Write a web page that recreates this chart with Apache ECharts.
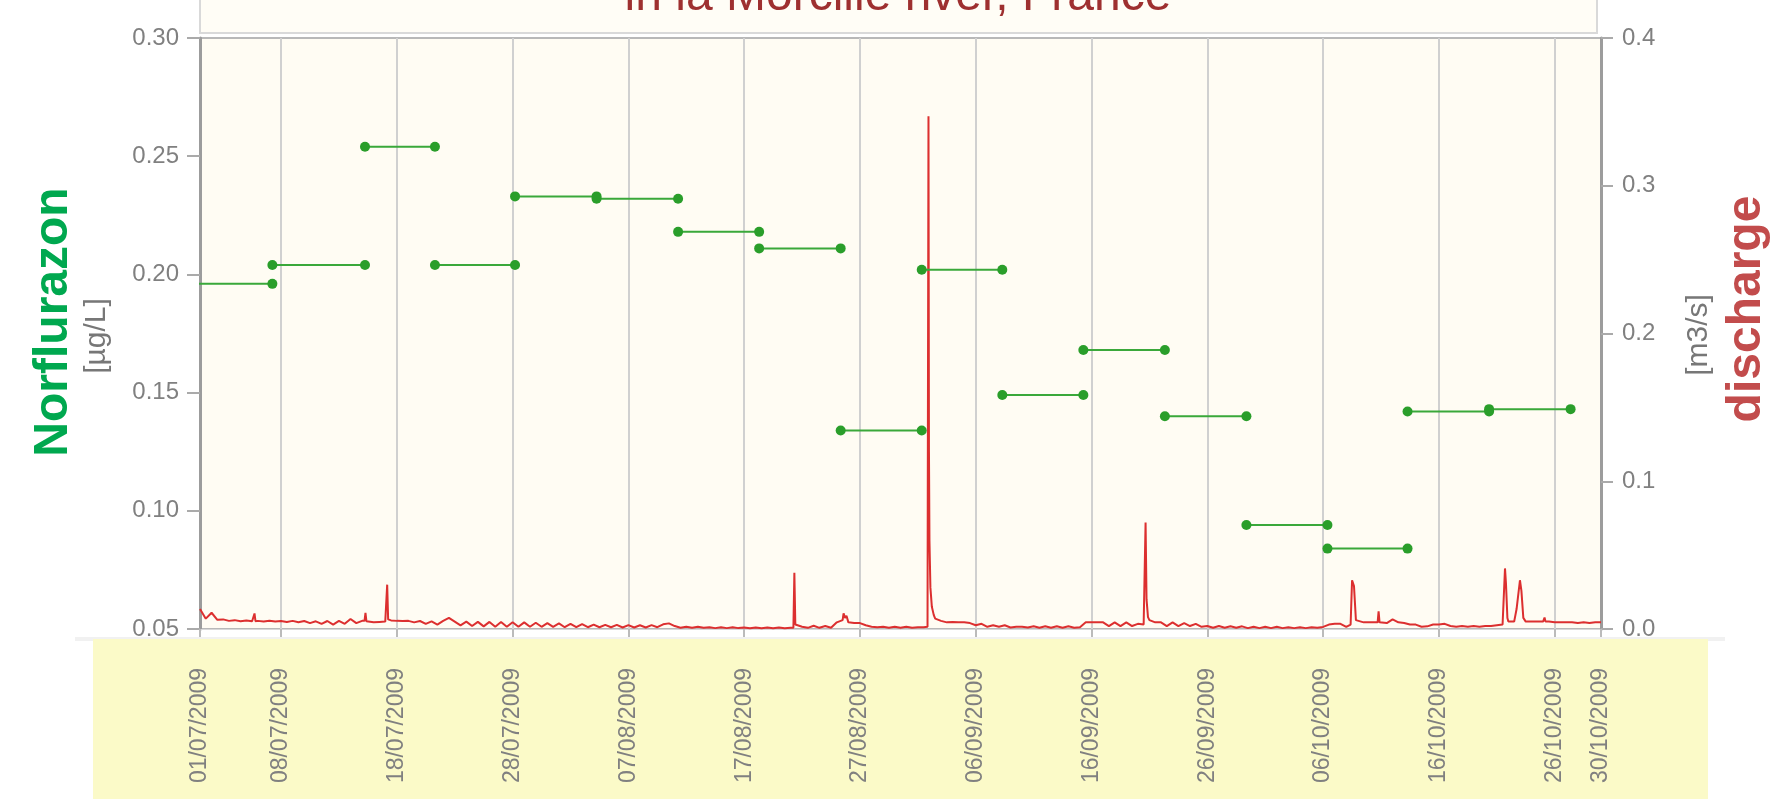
<!DOCTYPE html>
<html>
<head>
<meta charset="utf-8">
<title>Norflurazon and discharge in la Morcille river</title>
<script src="https://cdn.jsdelivr.net/npm/echarts@6.0.0/dist/echarts.min.js"></script>
<style>
  html, body { margin: 0; padding: 0; background: #fff; }
  #chart { width: 1770px; height: 803px; }
</style>
</head>
<body>
<div id="chart"></div>
<script>
// dates shown on the x axis
const tickDates = ['2009-07-01', '2009-07-08', '2009-07-18', '2009-07-28', '2009-08-07', '2009-08-17', '2009-08-27',
  '2009-09-06', '2009-09-16', '2009-09-26', '2009-10-06', '2009-10-16', '2009-10-26', '2009-10-30']

// norflurazon composite samples: period limits and concentration [µg/L]
const sampleDates = ['2009-06-30 06:00', '2009-07-07 06:00', '2009-07-15 06:00', '2009-07-21 07:00', '2009-07-28 05:00',
  '2009-08-04 06:00', '2009-08-11 07:00', '2009-08-18 07:00', '2009-08-25 08:00', '2009-09-01 08:00', '2009-09-08 07:00',
  '2009-09-15 07:00', '2009-09-22 08:00', '2009-09-29 09:00', '2009-10-06 09:00', '2009-10-13 07:00', '2009-10-20 08:00',
  '2009-10-27 09:00']
const norflurazon = [0.196, 0.204, 0.254, 0.204, 0.233, 0.232, 0.218, 0.211, 0.134, 0.202, 0.149, 0.168, 0.140,
  0.094, 0.084, 0.142, 0.143]

// discharge [m3/s], one value every 12 h from 01/07/2009 00:00
const dischargeStart = '2009-07-01 00:00'
const dischargeHalfDay = [
  0.0135, 0.007, 0.011, 0.0062, 0.0065, 0.0055, 0.006, 0.0052, 0.0058, 0.0052, // 01/07
  0.0055, 0.005, 0.0056, 0.005, 0.0054, 0.0048, 0.0055, 0.0046, 0.0054, 0.004,
  0.0052, 0.0035, 0.0054, 0.003, 0.0055, 0.0035, 0.0068, 0.004, 0.0055, 0.005,
  0.0045, 0.0048, 0.005, 0.0058, 0.0055, 0.0054, 0.0055, 0.0045, 0.0054, 0.0035,
  0.0052, 0.003, 0.0055, 0.0075, 0.005, 0.0025, 0.005, 0.002, 0.0048, 0.0018,
  0.0048, 0.0015, 0.0047, 0.0015, 0.0046, 0.0015, 0.0045, 0.0015, 0.0042, 0.0015, // 26/07
  0.004, 0.0015, 0.0038, 0.0012, 0.0035, 0.0012, 0.0033, 0.0012, 0.003, 0.0012,
  0.0028, 0.0012, 0.0028, 0.001, 0.0026, 0.001, 0.0025, 0.001, 0.0026, 0.0012,
  0.0032, 0.0038, 0.002, 0.0008, 0.0015, 0.0008, 0.0015, 0.0008, 0.0012, 0.0006,
  0.0012, 0.0006, 0.0012, 0.0006, 0.001, 0.0005, 0.001, 0.0005, 0.001, 0.0005,
  0.001, 0.0005, 0.0008, 0.0025, 0.0015, 0.0008, 0.0022, 0.0008, 0.002, 0.0008, // 20/08
  0.0045, 0.006, 0.0045, 0.004, 0.004, 0.0025, 0.0015, 0.0012, 0.0015, 0.0008,
  0.0015, 0.0008, 0.0015, 0.0008, 0.0012, 0.0012, 0.06, 0.007, 0.0055, 0.0045,
  0.0047, 0.0045, 0.0045, 0.004, 0.0025, 0.0035, 0.0015, 0.0025, 0.0015, 0.0025,
  0.001, 0.0015, 0.0015, 0.001, 0.0018, 0.0008, 0.0018, 0.0008, 0.0018, 0.0008,
  0.0018, 0.0008, 0.0012, 0.0045, 0.0045, 0.0045, 0.0045, 0.002, 0.0045, 0.002, // 14/09
  0.0045, 0.002, 0.0035, 0.003, 0.006, 0.0045, 0.0045, 0.002, 0.0045, 0.002,
  0.004, 0.002, 0.0035, 0.0015, 0.002, 0.0008, 0.002, 0.0008, 0.0018, 0.0008,
  0.0018, 0.0006, 0.0015, 0.0006, 0.0015, 0.0006, 0.0015, 0.0006, 0.0012, 0.0006,
  0.0012, 0.0006, 0.0012, 0.0008, 0.0014, 0.003, 0.0035, 0.0035, 0.0015, 0.033,
  0.005, 0.0045, 0.0045, 0.0045, 0.0045, 0.004, 0.0065, 0.0045, 0.004, 0.003, // 09/10
  0.003, 0.0015, 0.0018, 0.003, 0.003, 0.0035, 0.002, 0.0015, 0.002, 0.0015,
  0.002, 0.0015, 0.002, 0.002, 0.0025, 0.003, 0.005, 0.005, 0.033, 0.005,
  0.005, 0.005, 0.005, 0.005, 0.0045, 0.0045, 0.0045, 0.0045, 0.004, 0.0045,
  0.004, 0.0045, 0.0045
]
// short flood peaks between the 12 h values
const dischargePeaks = [
  ['2009-07-05 15:00', 0.0052], ['2009-07-05 17:00', 0.0105], ['2009-07-05 19:00', 0.0053],
  ['2009-07-15 05:00', 0.0055], ['2009-07-15 07:00', 0.011], ['2009-07-15 09:00', 0.0052],
  ['2009-07-17 02:00', 0.005], ['2009-07-17 04:00', 0.030], ['2009-07-17 06:00', 0.0065],
  ['2009-08-21 06:00', 0.0008], ['2009-08-21 08:00', 0.038], ['2009-08-21 10:00', 0.003],
  ['2009-08-25 14:00', 0.0106], ['2009-08-25 17:00', 0.0075], ['2009-08-25 20:00', 0.009],
  ['2009-09-01 20:00', 0.0015], ['2009-09-01 22:00', 0.347], ['2009-09-01 23:00', 0.12],
  ['2009-09-02 02:00', 0.028], ['2009-09-02 05:00', 0.015], ['2009-09-02 09:00', 0.0094],
  ['2009-09-20 14:00', 0.0035], ['2009-09-20 16:00', 0.072], ['2009-09-20 18:00', 0.02], ['2009-09-20 21:00', 0.008],
  ['2009-10-08 09:00', 0.003], ['2009-10-08 16:00', 0.029], ['2009-10-08 20:00', 0.006],
  ['2009-10-10 17:00', 0.0045], ['2009-10-10 19:00', 0.012], ['2009-10-10 21:00', 0.0045],
  ['2009-10-21 15:00', 0.003], ['2009-10-21 17:00', 0.041], ['2009-10-21 19:00', 0.031], ['2009-10-21 22:00', 0.0075],
  ['2009-10-22 17:00', 0.0135], ['2009-10-23 03:00', 0.026], ['2009-10-23 07:00', 0.0075],
  ['2009-10-25 03:00', 0.0078], ['2009-10-25 05:00', 0.005]
]

function toTime (s) {
  return new Date(s.length > 10 ? s.replace(' ', 'T') : s + 'T00:00').getTime()
}
function pad (n) {
  return n < 10 ? '0' + n : '' + n
}

const HALF_DAY = 12 * 3600 * 1000
const t0 = toTime(dischargeStart)
const dischargeData = dischargeHalfDay.map((v, i) => [t0 + i * HALF_DAY, v])
dischargePeaks.forEach(p => dischargeData.push([toTime(p[0]), p[1]]))
dischargeData.sort((a, b) => a[0] - b[0])

// one flat segment per sampling period, broken between periods
const sampleData = []
norflurazon.forEach((v, i) => {
  sampleData.push([toTime(sampleDates[i]), v], [toTime(sampleDates[i + 1]), v], [toTime(sampleDates[i + 1]), null])
})

const ticks = tickDates.map(toTime)
const FONT = 'Liberation Sans'

const chart = echarts.init(document.getElementById('chart'))
chart.setOption({
  animation: false,
  textStyle: { fontFamily: FONT },
  grid: {
    left: 200,
    right: 169,
    top: 38,
    bottom: 174,
    show: true,
    backgroundColor: '#fffcf3',
    borderColor: '#b8b8b8',
    borderWidth: 2
  },
  // timestamps on a plain value axis, ticks only at the listed dates
  xAxis: {
    type: 'value',
    min: ticks[0],
    max: ticks[ticks.length - 1],
    offset: 10,
    axisLine: { lineStyle: { color: '#d8d8d8', width: 1 } },
    axisTick: { customValues: ticks, length: 8, lineStyle: { color: '#bbb', width: 2 } },
    axisLabel: {
      customValues: ticks,
      rotate: 90,
      margin: 29,
      fontSize: 23,
      color: '#808080',
      formatter: function (v) {
        const d = new Date(v)
        return pad(d.getDate()) + '/' + pad(d.getMonth() + 1) + '/' + d.getFullYear()
      }
    },
    splitLine: { show: true, lineStyle: { color: '#d0d0d0', width: 2 } }
  },
  yAxis: [{
    type: 'value',
    position: 'left',
    min: 0.05,
    max: 0.3,
    interval: 0.05,
    axisLine: { show: true, lineStyle: { color: '#9c9c9c', width: 3 } },
    axisTick: { show: true, length: 13, lineStyle: { color: '#aaa', width: 2 } },
    axisLabel: { margin: 21, fontSize: 24, color: '#808080', formatter: v => v.toFixed(2) },
    splitLine: { show: false }
  }, {
    type: 'value',
    position: 'right',
    min: 0,
    max: 0.4,
    interval: 0.1,
    axisLine: { show: true, lineStyle: { color: '#9c9c9c', width: 3 } },
    axisTick: { show: true, length: 12, lineStyle: { color: '#aaa', width: 2 } },
    axisLabel: { margin: 21, fontSize: 24, color: '#808080', formatter: v => v.toFixed(1) },
    splitLine: { show: false }
  }],
  graphic: [
    { type: 'rect', z: -10, shape: { x: 75, y: 637, width: 1650, height: 4 }, style: { fill: '#f1f1f1' } },
    { type: 'rect', z: -9, shape: { x: 93, y: 639, width: 1615, height: 160 }, style: { fill: '#fbfac8' } },
    {
      type: 'rect',
      shape: { x: 200, y: -40, width: 1397, height: 73 },
      style: { fill: '#fffdf6', stroke: '#d9d9d9', lineWidth: 2 }
    },
    {
      type: 'text',
      x: 898,
      y: -3,
      style: { text: 'in la Morcille river, France', fontFamily: FONT, fontSize: 48, fill: '#9e3030', align: 'center', verticalAlign: 'middle' }
    },
    {
      type: 'text',
      x: 54,
      y: 322,
      rotation: Math.PI / 2,
      style: { text: 'Norflurazon', fontFamily: FONT, fontSize: 48, fontWeight: 'bold', fill: '#00a84f', align: 'center', verticalAlign: 'middle' }
    },
    {
      type: 'text',
      x: 97,
      y: 336,
      rotation: Math.PI / 2,
      style: { text: '[µg/L]', fontFamily: FONT, fontSize: 30, fill: '#777', align: 'center', verticalAlign: 'middle' }
    },
    {
      type: 'text',
      x: 1699,
      y: 335,
      rotation: Math.PI / 2,
      style: { text: '[m3/s]', fontFamily: FONT, fontSize: 30, fill: '#777', align: 'center', verticalAlign: 'middle' }
    },
    {
      type: 'text',
      x: 1747,
      y: 309,
      rotation: Math.PI / 2,
      style: { text: 'discharge', fontFamily: FONT, fontSize: 48, fontWeight: 'bold', fill: '#c24c4c', align: 'center', verticalAlign: 'middle' }
    }
  ],
  series: [{
    name: 'discharge',
    type: 'line',
    yAxisIndex: 1,
    data: dischargeData,
    showSymbol: false,
    lineStyle: { color: '#dc2f2f', width: 2 },
    itemStyle: { color: '#dc2f2f' },
    z: 2
  }, {
    name: 'Norflurazon',
    type: 'line',
    yAxisIndex: 0,
    data: sampleData,
    connectNulls: false,
    symbol: 'circle',
    symbolSize: 10,
    lineStyle: { color: '#3aa83a', width: 2 },
    itemStyle: { color: '#2a9e2a' },
    z: 3
  }]
})
</script>
</body>
</html>
